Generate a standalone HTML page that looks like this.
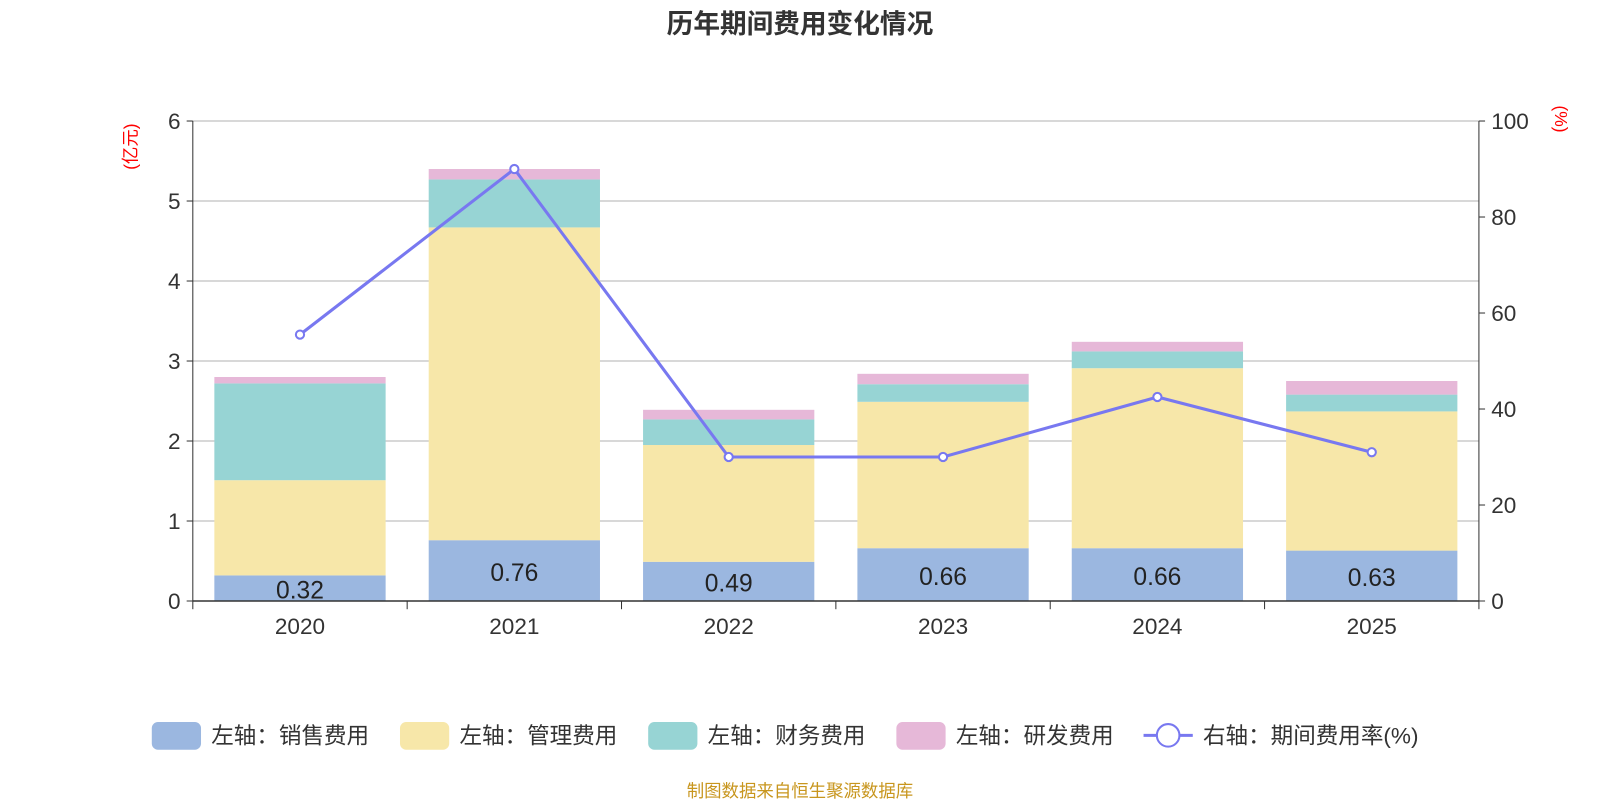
<!DOCTYPE html>
<html><head><meta charset="utf-8"><style>
body{margin:0;background:#fff;width:1600px;height:800px;overflow:hidden;font-family:"Liberation Sans","Noto Sans CJK SC",sans-serif}
</style></head><body>
<svg width="1600" height="800" xmlns="http://www.w3.org/2000/svg"><g id="c" transform="scale(1.0256)"></g></svg>
<script>
const categories=['2020','2021','2022','2023','2024','2025'];
const sales=[0.32,0.76,0.49,0.66,0.66,0.63];
const mgmt=[1.19,3.91,1.46,1.83,2.25,1.74];
const fin=[1.21,0.60,0.32,0.22,0.21,0.21];
const rd=[0.08,0.13,0.12,0.13,0.12,0.17];
const rate=[55.5,90,30,30,42.5,31];
const leftTicks=[0,1,2,3,4,5,6];
const rightTicks=[0,20,40,60,80,100];
const svg=document.getElementById('c');
const NS='http://www.w3.org/2000/svg';
const X0=188,X1=1442,Y0=586,Y1=118;
const band=(X1-X0)/categories.length;
const yL=v=>Y0-(v/6)*(Y0-Y1);
const yR=v=>Y0-(v/100)*(Y0-Y1);
const xC=i=>X0+band*(i+0.5);
function el(t,a,txt){const e=document.createElementNS(NS,t);for(const k in a)e.setAttribute(k,a[k]);if(txt!=null)e.textContent=txt;svg.appendChild(e);return e;}
let e=el('text',{x:780,y:32,'text-anchor':'middle','font-size':26,'font-weight':'bold',fill:'#333'},'历年期间费用变化情况');

leftTicks.forEach(v=>{
 if(v>0){const g=el('line',{x1:X0,x2:X1,y1:yL(v),y2:yL(v),stroke:'#ccc','stroke-width':1.5});}
 el('line',{x1:X0-6,x2:X0,y1:yL(v),y2:yL(v),stroke:'#333'});
 const t=el('text',{x:X0-12,y:yL(v)+8,'text-anchor':'end','font-size':22,fill:'#333'},v);
 
});
rightTicks.forEach(v=>{
 el('line',{x1:X1,x2:X1+6,y1:yR(v),y2:yR(v),stroke:'#333'});
 const t=el('text',{x:X1+12,y:yR(v)+8,'font-size':22,fill:'#333'},v);
 
});
el('line',{x1:X0,x2:X0,y1:Y1,y2:Y0,stroke:'#333'});
el('line',{x1:X1,x2:X1,y1:Y1,y2:Y0,stroke:'#333'});
e=el('text',{x:133,y:143,'font-size':17,fill:'red','text-anchor':'middle',transform:'rotate(-90 133 143)'},'(亿元)');

e=el('text',{x:1516,y:116,'font-size':17,fill:'red','text-anchor':'middle',transform:'rotate(90 1516 116)'},'(%)');

const series=[[sales,'#9bb7e0','bar-sales'],[mgmt,'#f7e7a9','bar-mgmt'],[fin,'#97d4d4','bar-finance'],[rd,'#e6b8d8','bar-rd']];
const bw=167;
categories.forEach((c,i)=>{
 let acc=0;
 series.forEach(([arr,col,nm])=>{
  const r=el('rect',{x:xC(i)-bw/2,y:yL(acc+arr[i]),width:bw,height:yL(acc)-yL(acc+arr[i]),fill:col});
  
  acc+=arr[i];
 });
 const t=el('text',{x:xC(i),y:(yL(0)+yL(sales[i]))/2+10,'text-anchor':'middle','font-size':24,fill:'#222'},sales[i].toFixed(2));
 
 const xl=el('text',{x:xC(i),y:618,'text-anchor':'middle','font-size':22,fill:'#333'},c);
 
});
for(let i=0;i<=categories.length;i++)el('line',{x1:X0+band*i,x2:X0+band*i,y1:Y0,y2:Y0+8,stroke:'#333'});
el('line',{x1:X0,x2:X1,y1:Y0,y2:Y0,stroke:'#333','stroke-width':1.5});
const ln=el('polyline',{points:rate.map((v,i)=>xC(i)+','+yR(v)).join(' '),fill:'none',stroke:'#7878f0','stroke-width':3});

rate.forEach((v,i)=>{const p=el('circle',{cx:xC(i),cy:yR(v),r:4,fill:'#fff',stroke:'#7878f0','stroke-width':2});});
const leg=[['左轴：销售费用','#9bb7e0',148],['左轴：管理费用','#f7e7a9',390],['左轴：财务费用','#97d4d4',632],['左轴：研发费用','#e6b8d8',874]];
leg.forEach(([t,c,x])=>{
 const r=el('rect',{x:x,y:704,width:48,height:27,rx:6,fill:c});
 const tx=el('text',{x:x+58,y:725,'font-size':22,fill:'#333'},t);
});
el('line',{x1:1115,x2:1163,y1:717,y2:717,stroke:'#7878f0','stroke-width':3});
el('circle',{cx:1139,cy:717,r:11,fill:'#fff',stroke:'#7878f0','stroke-width':2});
e=el('text',{x:1173,y:725,'font-size':22,fill:'#333'},'右轴：期间费用率(%)');
e=el('text',{x:780,y:777,'text-anchor':'middle','font-size':17,fill:'#c8961e'},'制图数据来自恒生聚源数据库');
</script>
</body></html>
